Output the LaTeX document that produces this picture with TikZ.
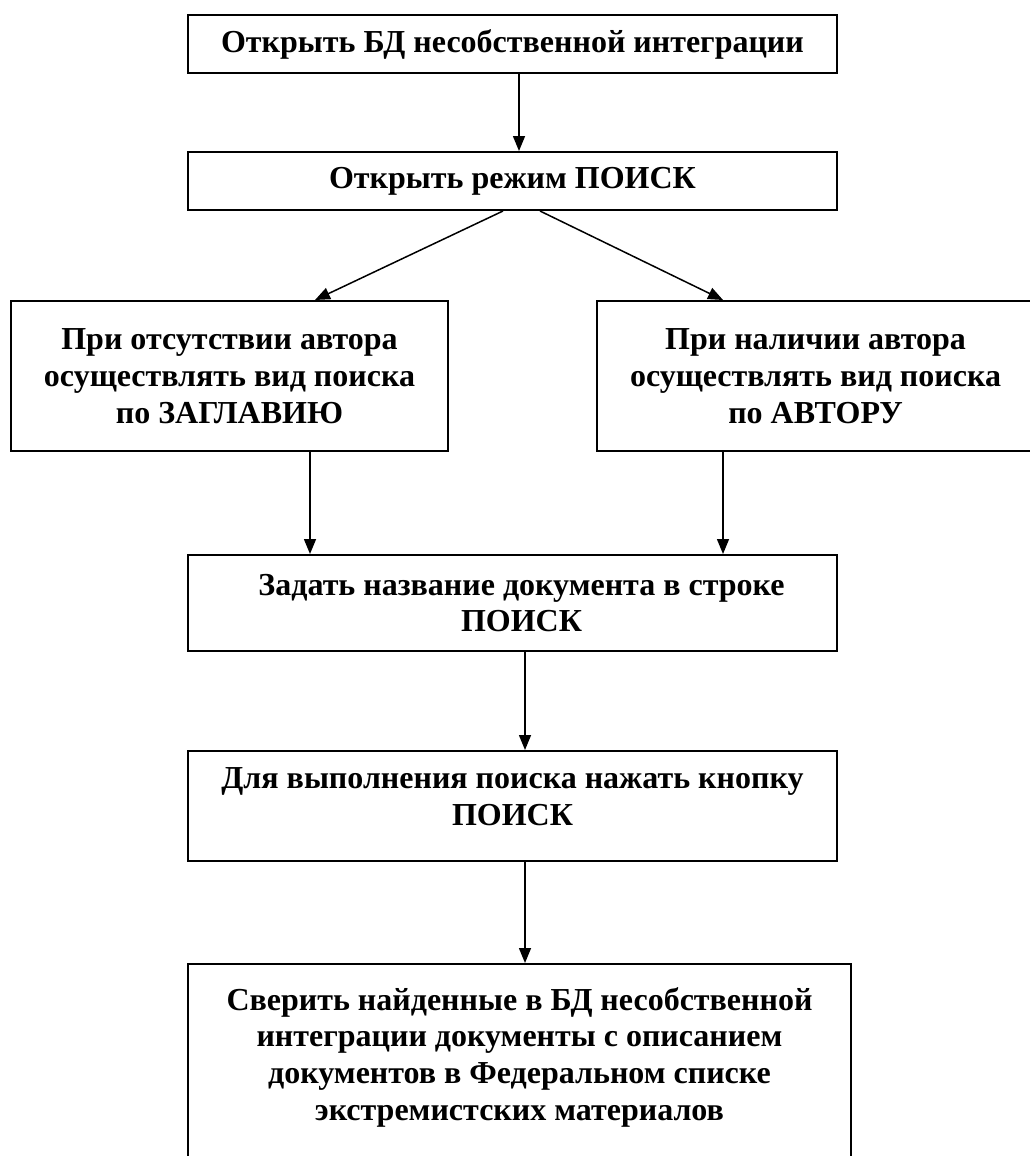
\documentclass[tikz,border=0pt]{standalone}
\usepackage{fontspec}
\setmainfont{Liberation Serif}
\usepackage{tikz}
\usetikzlibrary{positioning, arrows.meta}
\tikzset{
    base/.style={
        font=\fontsize{32}{36.7}\selectfont\bfseries,
        align=center
    },
    stage/.style={
        base,
        rectangle,
        draw=black,
        line width=2pt,
        inner sep=0pt
    },
    flow/.style={
        -{Triangle[length=15pt, width=12pt]},
        line width=1.5pt
    }
}

\begin{document}
\begin{tikzpicture}[x=1pt, y=-1pt]
  % Page
  \useasboundingbox (0,0) rectangle (1030,1156);
  \clip (0,0) rectangle (1030,1156);

  % Steps
  \node[stage, minimum width=649pt, minimum height=58pt] (open) at (512.5,44) {\raisebox{-2pt}{Открыть БД несобственной интеграции}};
  \node[stage, minimum width=649pt, minimum height=58pt] (mode) at (512.5,181) {\raisebox{-2pt}{Открыть режим ПОИСК}};
  \node[stage, minimum width=437pt, minimum height=150pt] (notitle) at (229.5,376) {При отсутствии автора\\ осуществлять вид поиска\\ по ЗАГЛАВИЮ};
  \node[stage, minimum width=437pt, minimum height=150pt] (author) at (815.5,376) {При наличии автора\\ осуществлять вид поиска\\ по АВТОРУ};
  \node[stage, minimum width=649pt, minimum height=96pt] (query) at (512.5,603) {\hspace*{18pt}Задать название документа в строке\\ \hspace*{18pt}ПОИСК};
  \node[stage, minimum width=649pt, minimum height=110pt] (press) at (512.5,806) {Для выполнения поиска нажать кнопку\\ ПОИСК\\[-18pt]\mbox{}};
  \node[stage, minimum width=663pt, minimum height=216pt] (check) at (519.5,1072) {Сверить найденные в БД несобственной\\ интеграции документы с описанием\\ документов в Федеральном списке\\ экстремистских материалов\\ \mbox{}};

  % Connectors
  \draw[flow] ([xshift=6.5pt]open.south) -- ([xshift=6.5pt]mode.north);
  \draw[flow] ([xshift=-9.5pt]mode.south) -- ([xshift=85.5pt]notitle.north);
  \draw[flow] ([xshift=27.5pt]mode.south) -- ([xshift=-92.5pt]author.north);
  \draw[flow] ([xshift=80.5pt]notitle.south) -- ([xshift=80.5pt]notitle.south |- query.north);
  \draw[flow] ([xshift=-92.5pt]author.south) -- ([xshift=-92.5pt]author.south |- query.north);
  \draw[flow] ([xshift=12.5pt]query.south) -- ([xshift=12.5pt]press.north);
  \draw[flow] ([xshift=12.5pt]press.south) -- ([xshift=5.5pt]check.north);
\end{tikzpicture}
\end{document}
